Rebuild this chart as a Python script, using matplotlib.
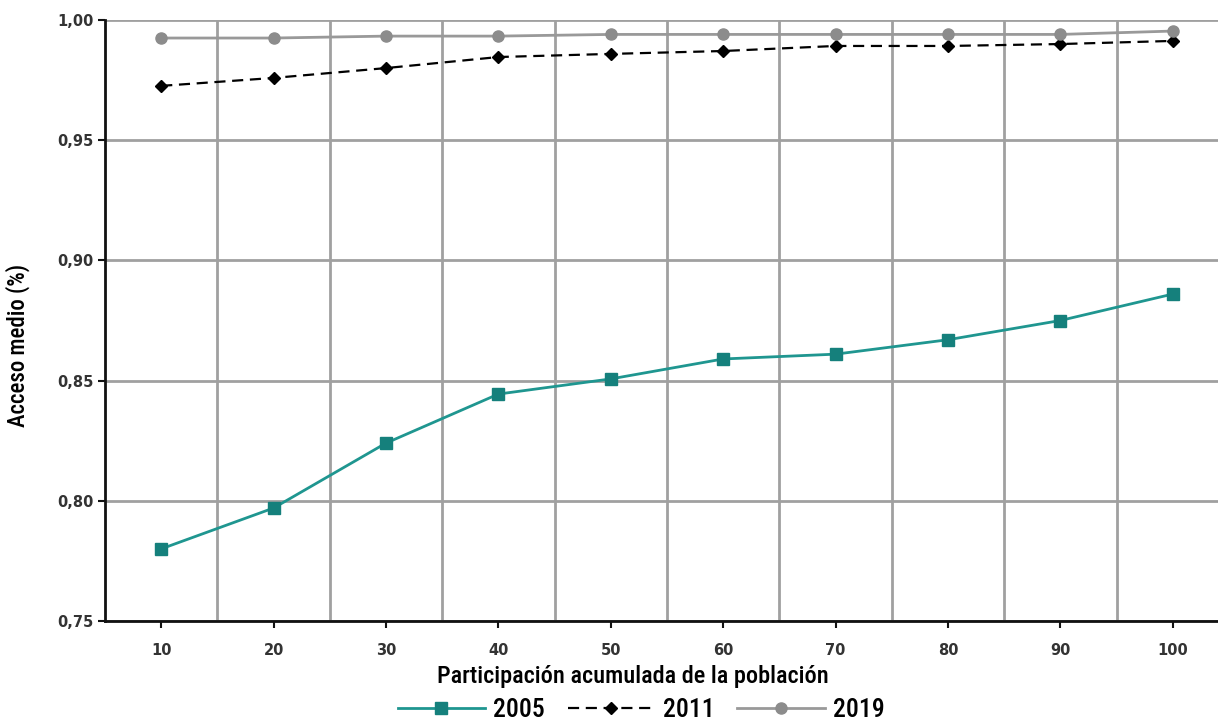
import numpy as np
import matplotlib
matplotlib.use("Agg")
import matplotlib.pyplot as plt
from matplotlib.ticker import FixedLocator, FuncFormatter

# data
categorias = ["10", "20", "30", "40", "50", "60", "70", "80", "90", "100"]
s2005 = [0.780, 0.797, 0.824, 0.8444, 0.8507, 0.859, 0.861, 0.867, 0.875, 0.886]
s2011 = [0.9726, 0.9759, 0.980, 0.9846, 0.9859, 0.9871, 0.9892, 0.9892, 0.990, 0.9913]
s2019 = [0.9925, 0.9925, 0.9933, 0.9933, 0.994, 0.994, 0.994, 0.994, 0.994, 0.9954]
yticks = [0.75, 0.80, 0.85, 0.90, 0.95, 1.00]

W, H = 1218, 725
fig = plt.figure(figsize=(W / 100, H / 100), dpi=100)
# axes runs past the right edge (reference is cropped there)
ax = fig.add_axes([105 / W, 1 - 621 / H, (1229 - 105) / W, (621 - 20) / H])

x = np.arange(1, len(categorias) + 1)
ax.plot(x, s2005, color="#1f9690", lw=2, marker="s", ms=8,
        mfc="#15807c", mec="#15807c", label="2005", zorder=3)
ax.plot(x, s2011, color="black", lw=1.6, ls=(0, (5, 3)), marker="D", ms=6,
        mfc="black", mec="black", label="2011", zorder=3)
ax.plot(x, s2019, color="#999999", lw=2, marker="o", ms=8,
        mfc="#8c8c8c", mec="#8c8c8c", label="2019", zorder=3)

ax.set_xlim(0.5, len(categorias) + 0.5)
ax.set_ylim(0.75, 1.00)
ax.set_xticks(x)
ax.set_xticklabels(categorias)
ax.set_yticks(yticks)
ax.yaxis.set_major_formatter(FuncFormatter(lambda v, p: f"{v:.2f}".replace(".", ",")))

# vertical grid at category boundaries
ax.xaxis.set_minor_locator(FixedLocator(np.arange(1.5, len(categorias), 1.0)))
ax.grid(True, which="minor", axis="x", color="#a0a0a0", lw=2)
ax.grid(True, which="major", axis="y", color="#a0a0a0", lw=2)
ax.tick_params(axis="x", which="minor", length=0)
ax.set_axisbelow(True)

for s in ["top", "right"]:
    ax.spines[s].set_visible(False)
for s in ["left", "bottom"]:
    ax.spines[s].set_linewidth(2)
    ax.spines[s].set_color("#111111")

ax.tick_params(axis="both", which="major", direction="out", length=5, width=1.5,
               labelsize=10.5, labelcolor="#333333", color="#111111")
ax.tick_params(axis="x", pad=11)
for lab in ax.get_xticklabels() + ax.get_yticklabels():
    lab.set_fontweight("bold")

fam = ["Roboto Condensed", "Roboto", "DejaVu Sans"]
fig.text(633 / W, 1 - 676 / H, "Participación acumulada de la población",
         ha="center", va="center", family=fam, fontsize=17.5, fontweight="medium")
fig.text(18 / W, 1 - 345 / H, "Acceso medio (%)", rotation=90,
         ha="center", va="center", family=fam, fontsize=16.5, fontweight="medium")

leg = fig.legend(loc="center", bbox_to_anchor=(641 / W, 1 - 710 / H), ncol=3,
                 frameon=False, handlelength=3.4, columnspacing=0.9, handletextpad=0.3,
                 prop={"family": fam, "size": 18.5, "weight": "medium"})

fig.savefig("out.png", dpi=100)
